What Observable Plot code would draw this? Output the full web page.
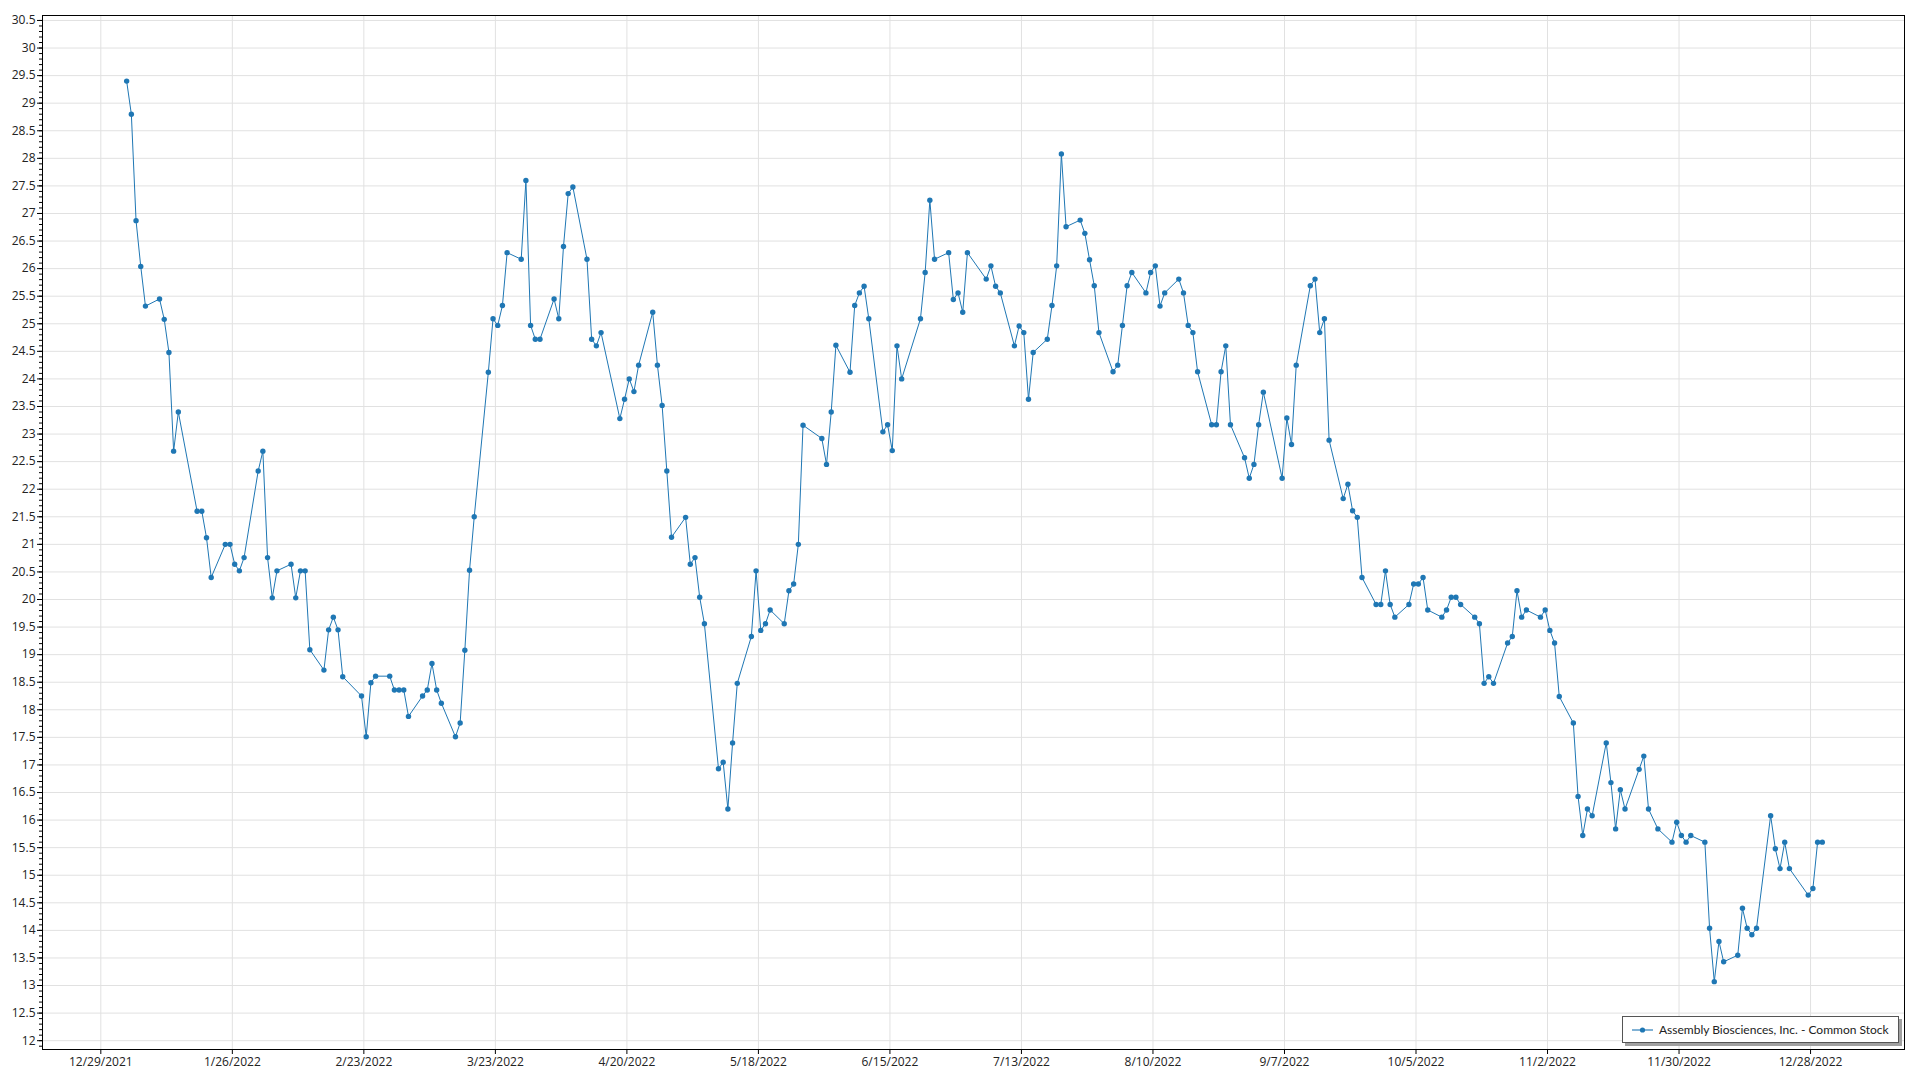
<!DOCTYPE html>
<html>
<head>
<meta charset="utf-8">
<script src="https://cdn.jsdelivr.net/npm/d3@7"></script>
<script src="https://cdn.jsdelivr.net/npm/@observablehq/plot@0.6"></script>
<style>
  html, body { margin: 0; padding: 0; background: #fff; }
  #wrap { position: relative; width: 1920px; height: 1080px; font-family: "Segoe UI", "Open Sans", "Noto Sans", sans-serif; }
  #legend {
    position: absolute; left: 1622px; top: 1016px; width: 277px; height: 27px;
    background: #fff; border: 1px solid #555; box-shadow: 3px 3px 0 #a0a0a0;
    display: flex; align-items: center; font-family: Lato, "Open Sans", sans-serif; font-size: 12px; color: #222;
    box-sizing: border-box; white-space: nowrap; overflow: hidden;
  }
  #legend svg { margin-left: 9px; margin-right: 6px; flex: none; }
</style>
</head>
<body>
<div id="wrap"></div>
<script>
const seriesName = "Assembly Biosciences, Inc. - Common Stock";

const dates = [
"2022-01-03","2022-01-04","2022-01-05","2022-01-06","2022-01-07","2022-01-10","2022-01-11","2022-01-12","2022-01-13","2022-01-14",
"2022-01-18","2022-01-19","2022-01-20","2022-01-21","2022-01-24","2022-01-25","2022-01-26","2022-01-27","2022-01-28","2022-01-31",
"2022-02-01","2022-02-02","2022-02-03","2022-02-04","2022-02-07","2022-02-08","2022-02-09","2022-02-10","2022-02-11","2022-02-14",
"2022-02-15","2022-02-16","2022-02-17","2022-02-18","2022-02-22","2022-02-23","2022-02-24","2022-02-25","2022-02-28","2022-03-01",
"2022-03-02","2022-03-03","2022-03-04","2022-03-07","2022-03-08","2022-03-09","2022-03-10","2022-03-11","2022-03-14","2022-03-15",
"2022-03-16","2022-03-17","2022-03-18","2022-03-21","2022-03-22","2022-03-23","2022-03-24","2022-03-25","2022-03-28","2022-03-29",
"2022-03-30","2022-03-31","2022-04-01","2022-04-04","2022-04-05","2022-04-06","2022-04-07","2022-04-08","2022-04-11","2022-04-12",
"2022-04-13","2022-04-14","2022-04-18","2022-04-19","2022-04-20","2022-04-21","2022-04-22","2022-04-25","2022-04-26","2022-04-27",
"2022-04-28","2022-04-29","2022-05-02","2022-05-03","2022-05-04","2022-05-05","2022-05-06","2022-05-09","2022-05-10","2022-05-11",
"2022-05-12","2022-05-13","2022-05-16","2022-05-17","2022-05-18","2022-05-19","2022-05-20","2022-05-23","2022-05-24","2022-05-25",
"2022-05-26","2022-05-27","2022-05-31","2022-06-01","2022-06-02","2022-06-03","2022-06-06","2022-06-07","2022-06-08","2022-06-09",
"2022-06-10","2022-06-13","2022-06-14","2022-06-15","2022-06-16","2022-06-17","2022-06-21","2022-06-22","2022-06-23","2022-06-24",
"2022-06-27","2022-06-28","2022-06-29","2022-06-30","2022-07-01","2022-07-05","2022-07-06","2022-07-07","2022-07-08","2022-07-11",
"2022-07-12","2022-07-13","2022-07-14","2022-07-15","2022-07-18","2022-07-19","2022-07-20","2022-07-21","2022-07-22","2022-07-25",
"2022-07-26","2022-07-27","2022-07-28","2022-07-29","2022-08-01","2022-08-02","2022-08-03","2022-08-04","2022-08-05","2022-08-08",
"2022-08-09","2022-08-10","2022-08-11","2022-08-12","2022-08-15","2022-08-16","2022-08-17","2022-08-18","2022-08-19","2022-08-22",
"2022-08-23","2022-08-24","2022-08-25","2022-08-26","2022-08-29","2022-08-30","2022-08-31","2022-09-01","2022-09-02","2022-09-06",
"2022-09-07","2022-09-08","2022-09-09","2022-09-12","2022-09-13","2022-09-14","2022-09-15","2022-09-16","2022-09-19","2022-09-20",
"2022-09-21","2022-09-22","2022-09-23","2022-09-26","2022-09-27","2022-09-28","2022-09-29","2022-09-30","2022-10-03","2022-10-04",
"2022-10-05","2022-10-06","2022-10-07","2022-10-10","2022-10-11","2022-10-12","2022-10-13","2022-10-14","2022-10-17","2022-10-18",
"2022-10-19","2022-10-20","2022-10-21","2022-10-24","2022-10-25","2022-10-26","2022-10-27","2022-10-28","2022-10-31","2022-11-01",
"2022-11-02","2022-11-03","2022-11-04","2022-11-07","2022-11-08","2022-11-09","2022-11-10","2022-11-11","2022-11-14","2022-11-15",
"2022-11-16","2022-11-17","2022-11-18","2022-11-21","2022-11-22","2022-11-23","2022-11-25","2022-11-28","2022-11-29","2022-11-30",
"2022-12-01","2022-12-02","2022-12-05","2022-12-06","2022-12-07","2022-12-08","2022-12-09","2022-12-12","2022-12-13","2022-12-14",
"2022-12-15","2022-12-16","2022-12-19","2022-12-20","2022-12-21","2022-12-22","2022-12-23","2022-12-27","2022-12-28","2022-12-29",
"2022-12-30"
];

const prices = [
29.40,28.80,26.87,26.04,25.32,25.45,25.08,24.48,22.69,23.40,
21.60,21.60,21.12,20.40,21.00,21.00,20.64,20.52,20.76,22.33,
22.69,20.76,20.03,20.52,20.64,20.03,20.52,20.52,19.09,18.72,
19.45,19.68,19.45,18.60,18.25,17.51,18.49,18.61,18.61,18.36,
18.36,18.36,17.88,18.25,18.36,18.84,18.36,18.12,17.51,17.76,
19.08,20.53,21.50,24.12,25.09,24.97,25.33,26.29,26.17,27.60,
24.97,24.72,24.72,25.45,25.09,26.40,27.36,27.48,26.17,24.72,
24.60,24.84,23.28,23.63,24.00,23.77,24.25,25.21,24.25,23.52,
22.33,21.13,21.49,20.64,20.76,20.04,19.56,16.93,17.05,16.20,
17.40,18.48,19.33,20.52,19.44,19.56,19.81,19.56,20.16,20.28,
21.00,23.16,22.92,22.45,23.40,24.61,24.12,25.33,25.56,25.68,
25.09,23.04,23.17,22.70,24.60,24.00,25.09,25.93,27.24,26.17,
26.29,25.44,25.56,25.21,26.29,25.81,26.05,25.68,25.56,24.60,
24.96,24.84,23.63,24.48,24.72,25.33,26.05,28.08,26.76,26.88,
26.64,26.16,25.69,24.84,24.13,24.25,24.97,25.69,25.93,25.56,
25.93,26.05,25.32,25.56,25.81,25.56,24.97,24.84,24.13,23.17,
23.17,24.13,24.60,23.17,22.57,22.20,22.45,23.17,23.76,22.20,
23.29,22.81,24.25,25.69,25.81,24.84,25.09,22.89,21.83,22.09,
21.61,21.49,20.40,19.91,19.91,20.52,19.91,19.68,19.91,20.28,
20.28,20.40,19.81,19.68,19.81,20.04,20.04,19.91,19.68,19.56,
18.48,18.60,18.48,19.21,19.33,20.16,19.68,19.81,19.68,19.81,
19.44,19.21,18.24,17.76,16.43,15.72,16.20,16.08,17.40,16.68,
15.84,16.55,16.20,16.92,17.16,16.20,15.84,15.60,15.96,15.72,
15.60,15.72,15.60,14.04,13.07,13.80,13.43,13.55,14.40,14.04,
13.92,14.04,16.08,15.48,15.12,15.60,15.12,14.64,14.76,15.60,
15.60
];

const xTickLabels = ["12/29/2021","1/26/2022","2/23/2022","3/23/2022","4/20/2022","5/18/2022","6/15/2022",
  "7/13/2022","8/10/2022","9/7/2022","10/5/2022","11/2/2022","11/30/2022","12/28/2022"];
const yMajorTicks = d3.range(12, 30.51, 0.5).map(v => +v.toFixed(1));
const yMinorTicks = d3.range(11.9, 30.59, 0.1).map(v => +v.toFixed(1));

const parseLabel = d3.utcParse("%m/%d/%Y");
const xTicks = xTickLabels.map(s => parseLabel(s));
const data = dates.map((d, i) => ({date: new Date(d + "T12:00:00Z"), price: prices[i]}));

const color = "#1f77b4";
const gridColor = "#e1e1e1";

const chart = Plot.plot({
  width: 1920,
  height: 1080,
  marginLeft: 42,
  marginTop: 15,
  marginRight: 16,
  marginBottom: 31,
  style: {fontFamily: '"Segoe UI", "Open Sans", "Noto Sans", sans-serif', fontSize: "12px", color: "#222", background: "#fff"},
  x: {type: "utc", domain: [new Date("2021-12-16T14:00:00Z"), new Date("2023-01-17T00:00:00Z")], label: null},
  y: {domain: [11.84, 30.59], label: null},
  marks: [
    Plot.gridY(yMajorTicks, {stroke: gridColor, strokeOpacity: 1, strokeWidth: 1}),
    Plot.gridX(xTicks, {stroke: gridColor, strokeOpacity: 1, strokeWidth: 1}),
    Plot.line(data, {x: "date", y: "price", stroke: color, strokeWidth: 1}),
    Plot.dot(data, {x: "date", y: "price", r: 2.7, fill: color, stroke: null}),
    Plot.axisY(yMinorTicks, {tickSize: 3, tickFormat: () => "", stroke: "#000", label: null}),
    Plot.axisY(yMajorTicks, {tickSize: 5, tickPadding: 2, tickFormat: d => String(d), stroke: "#000", fill: "#222", label: null}),
    Plot.axisX(xTicks, {tickSize: 5, tickPadding: 3, tickFormat: d3.utcFormat("%-m/%-d/%Y"), stroke: "#000", fill: "#222", label: null}),
    Plot.frame({stroke: "#000", strokeWidth: 1})
  ]
});

const wrap = document.getElementById("wrap");
wrap.appendChild(chart);

const legend = document.createElement("div");
legend.id = "legend";
legend.innerHTML = `<svg width="21" height="8"><line x1="0" y1="4" x2="21" y2="4" stroke="${color}" stroke-width="1.5" stroke-opacity="0.75"/><circle cx="10.5" cy="4" r="2.6" fill="${color}"/></svg><span></span>`;
legend.querySelector("span").textContent = seriesName;
wrap.appendChild(legend);
</script>
</body>
</html>
